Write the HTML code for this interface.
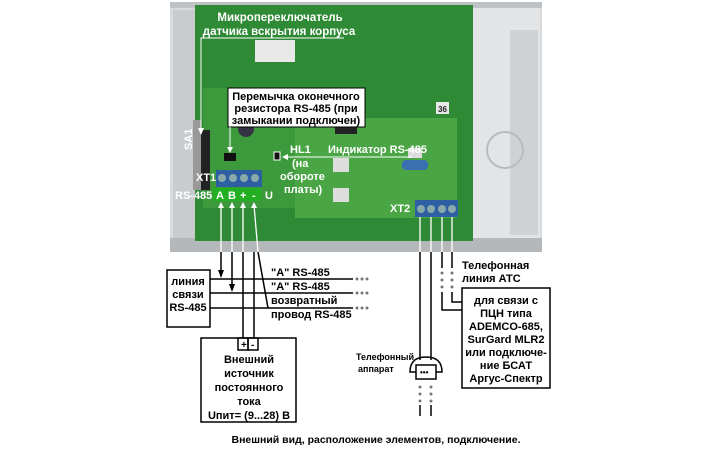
<!DOCTYPE html>
<html><head><meta charset="utf-8"><style>
body{margin:0;background:#fff;width:720px;height:450px;overflow:hidden;font-family:"Liberation Sans","Noto Sans CJK SC",sans-serif}
</style></head><body>
<svg width="720" height="450" xmlns="http://www.w3.org/2000/svg" font-family="Liberation Sans, sans-serif" font-weight="bold">
<!-- enclosure -->
<rect x="170" y="2" width="372" height="250" fill="#d8dadc"/>
<rect x="170" y="2" width="372" height="6" fill="#bfc2c5"/>
<rect x="173" y="10" width="22" height="230" fill="#c9cccf"/>
<rect x="473" y="8" width="67" height="235" fill="#e2e4e6"/>
<rect x="510" y="30" width="28" height="205" fill="#cfd2d5"/>
<circle cx="505" cy="150" r="18" fill="none" stroke="#b8bbbe" stroke-width="2"/>
<rect x="170" y="238" width="372" height="14" fill="#b5b8bb"/>
<!-- pcb -->
<rect x="195" y="5" width="278" height="236" fill="#2e8a35"/>
<rect x="203" y="88" width="100" height="120" fill="#3c9a3c"/>
<rect x="295" y="118" width="162" height="100" fill="#4aa644"/>
<rect x="255" y="40" width="40" height="22" fill="#e8e8e8"/>
<rect x="436" y="102" width="13" height="12" fill="#e8e8e8"/>
<text x="438" y="112" font-size="8" fill="#222">36</text>
<rect x="198" y="130" width="12" height="60" fill="#222"/>
<rect x="193" y="120" width="8" height="70" fill="#999"/>
<circle cx="246" cy="129" r="8" fill="#334"/>
<rect x="335" y="118" width="22" height="16" fill="#222"/>
<rect x="333" y="158" width="16" height="14" fill="#ddd"/>
<rect x="333" y="188" width="16" height="14" fill="#ddd"/>
<rect x="402" y="160" width="26" height="10" rx="4" fill="#3a6fb0"/>
<rect x="408" y="148" width="14" height="10" fill="#ddd"/>
<!-- jumper -->
<rect x="224" y="153" width="12" height="8" fill="#111"/>
<!-- terminals -->
<rect x="216" y="170" width="46" height="17" fill="#2e5fa3"/>
<g fill="#8aa"><circle cx="222" cy="178" r="4"/><circle cx="233" cy="178" r="4"/><circle cx="244" cy="178" r="4"/><circle cx="255" cy="178" r="4"/></g>
<rect x="213" y="188" width="48" height="13" fill="#22b022"/>
<g fill="#fff" font-size="11"><text x="216" y="199">A</text><text x="228" y="199">B</text><text x="240" y="199">+</text><text x="252" y="199">-</text><text x="265" y="199">U</text>
<text x="196" y="181">XT1</text><text x="175" y="199">RS-485</text>
<text x="390" y="212">XT2</text></g>
<rect x="415" y="200" width="43" height="17" fill="#2e5fa3"/>
<g fill="#8aa"><circle cx="421" cy="209" r="4"/><circle cx="431" cy="209" r="4"/><circle cx="442" cy="209" r="4"/><circle cx="452" cy="209" r="4"/></g>
<!-- top labels -->
<g fill="#fff" font-size="11.5" text-anchor="middle">
<text x="280" y="21">Микропереключатель</text>
<text x="279" y="35">датчика вскрытия корпуса</text>
</g>
<polyline points="344,38 201,38 201,132" fill="none" stroke="#fff" stroke-width="1"/>
<polygon points="198,128 204,128 201,135" fill="#fff"/>
<text x="0" y="0" font-size="11" fill="#fff" transform="translate(192,150) rotate(-90)">SA1</text>
<rect x="228" y="88" width="137" height="39" fill="#fff" stroke="#000"/>
<g font-size="11" text-anchor="middle" fill="#000">
<text x="296" y="100">Перемычка оконечного</text>
<text x="296" y="112">резистора RS-485 (при</text>
<text x="296" y="124">замыкании подключен)</text></g>
<line x1="230" y1="127" x2="230" y2="151" stroke="#fff"/>
<polygon points="227,147 233,147 230,153" fill="#fff"/>
<rect x="274" y="152" width="6" height="8" fill="#111" stroke="#fff"/>
<line x1="284" y1="157" x2="412" y2="157" stroke="#fff"/>
<polygon points="282,157 288,154 288,160" fill="#fff"/>
<g fill="#fff" font-size="11">
<text x="290" y="153">HL1</text>
<text x="292" y="167">(на</text>
<text x="280" y="180">обороте</text>
<text x="284" y="193">платы)</text>
<text x="328" y="153">Индикатор RS-485</text></g>
<!-- wires from XT1 -->
<g stroke="#fff" stroke-width="1.3">
<line x1="221" y1="205" x2="221" y2="252"/><line x1="232" y1="205" x2="232" y2="252"/>
<line x1="243" y1="205" x2="243" y2="252"/><line x1="254" y1="205" x2="258" y2="252"/>
<line x1="420" y1="217" x2="420" y2="252"/><line x1="431" y1="217" x2="431" y2="252"/>
<line x1="442" y1="217" x2="442" y2="252"/><line x1="452" y1="217" x2="452" y2="252"/>
</g>
<g fill="#fff"><polygon points="218,208 224,208 221,202"/><polygon points="229,208 235,208 232,202"/><polygon points="240,208 246,208 243,202"/><polygon points="251,208 257,208 254,202"/></g>
<g stroke="#000" stroke-width="1.5" fill="none">
<line x1="221" y1="252" x2="221" y2="276"/><line x1="232" y1="252" x2="232" y2="290"/>
<line x1="243" y1="252" x2="243" y2="338"/><line x1="254" y1="252" x2="254" y2="338"/>
<line x1="258" y1="252" x2="268" y2="308"/>
<line x1="210" y1="279" x2="353" y2="279"/><line x1="210" y1="293" x2="353" y2="293"/><line x1="210" y1="308" x2="353" y2="308"/>
<rect x="167" y="270" width="43" height="57"/>
<rect x="201" y="338" width="95" height="84"/>
<rect x="238" y="338" width="10" height="12"/><rect x="248" y="338" width="10" height="12"/>
<line x1="420" y1="252" x2="420" y2="360"/><line x1="431" y1="252" x2="431" y2="360"/>
<line x1="442" y1="252" x2="442" y2="268"/><line x1="452" y1="252" x2="452" y2="268"/>
<polyline points="442,292 442,310 462,310"/><polyline points="452,292 452,302 462,302"/>
<rect x="462" y="288" width="88" height="100"/>
<path d="M410,372 Q410,357 426,357 Q442,357 442,372 Z"/>
<rect x="416" y="365" width="20" height="14" fill="#fff"/>
<line x1="420" y1="405" x2="420" y2="416"/><line x1="431" y1="405" x2="431" y2="416"/>
</g>
<polygon points="218,270 224,270 221,278" fill="#000"/><polygon points="229,284 235,284 232,292" fill="#000"/>
<g fill="#777"><circle cx="357" cy="279" r="1.5"/><circle cx="362" cy="279" r="1.5"/><circle cx="367" cy="279" r="1.5"/>
<circle cx="357" cy="293" r="1.5"/><circle cx="362" cy="293" r="1.5"/><circle cx="367" cy="293" r="1.5"/>
<circle cx="357" cy="308" r="1.5"/><circle cx="362" cy="308" r="1.5"/><circle cx="367" cy="308" r="1.5"/>
<circle cx="442" cy="273" r="1.5"/><circle cx="442" cy="280" r="1.5"/><circle cx="442" cy="287" r="1.5"/>
<circle cx="452" cy="273" r="1.5"/><circle cx="452" cy="280" r="1.5"/><circle cx="452" cy="287" r="1.5"/>
<circle cx="420" cy="387" r="1.5"/><circle cx="420" cy="394" r="1.5"/><circle cx="420" cy="401" r="1.5"/>
<circle cx="431" cy="387" r="1.5"/><circle cx="431" cy="394" r="1.5"/><circle cx="431" cy="401" r="1.5"/>
<text x="420" y="375" font-size="8" fill="#000">•••</text></g>
<g font-size="11" fill="#000">
<text x="188" y="285" text-anchor="middle">линия</text>
<text x="188" y="298" text-anchor="middle">связи</text>
<text x="188" y="311" text-anchor="middle">RS-485</text>
<text x="271" y="276">"A" RS-485</text>
<text x="271" y="290">"A" RS-485</text>
<text x="271" y="304">возвратный</text>
<text x="271" y="318">провод RS-485</text>
<text x="241" y="348" font-size="10">+</text><text x="251" y="348" font-size="10">-</text>
<g text-anchor="middle"><text x="249" y="363">Внешний</text><text x="249" y="377">источник</text><text x="249" y="391">постоянного</text><text x="249" y="405">тока</text><text x="249" y="419">Uпит= (9...28) В</text>
<text x="506" y="304">для связи с</text><text x="506" y="317">ПЦН типа</text><text x="506" y="330">ADEMCO-685,</text><text x="506" y="343">SurGard MLR2</text><text x="506" y="356">или подключе-</text><text x="506" y="369">ние БСАТ</text><text x="506" y="382">Аргус-Спектр</text></g>
<text x="462" y="269">Телефонная</text><text x="462" y="282">линия АТС</text>
<text x="356" y="360" font-size="9">Телефонный</text><text x="358" y="372" font-size="9">аппарат</text>
<text x="376" y="443" text-anchor="middle" font-size="10.5">Внешний вид, расположение элементов, подключение.</text>
</g>
</svg>
</body></html>
